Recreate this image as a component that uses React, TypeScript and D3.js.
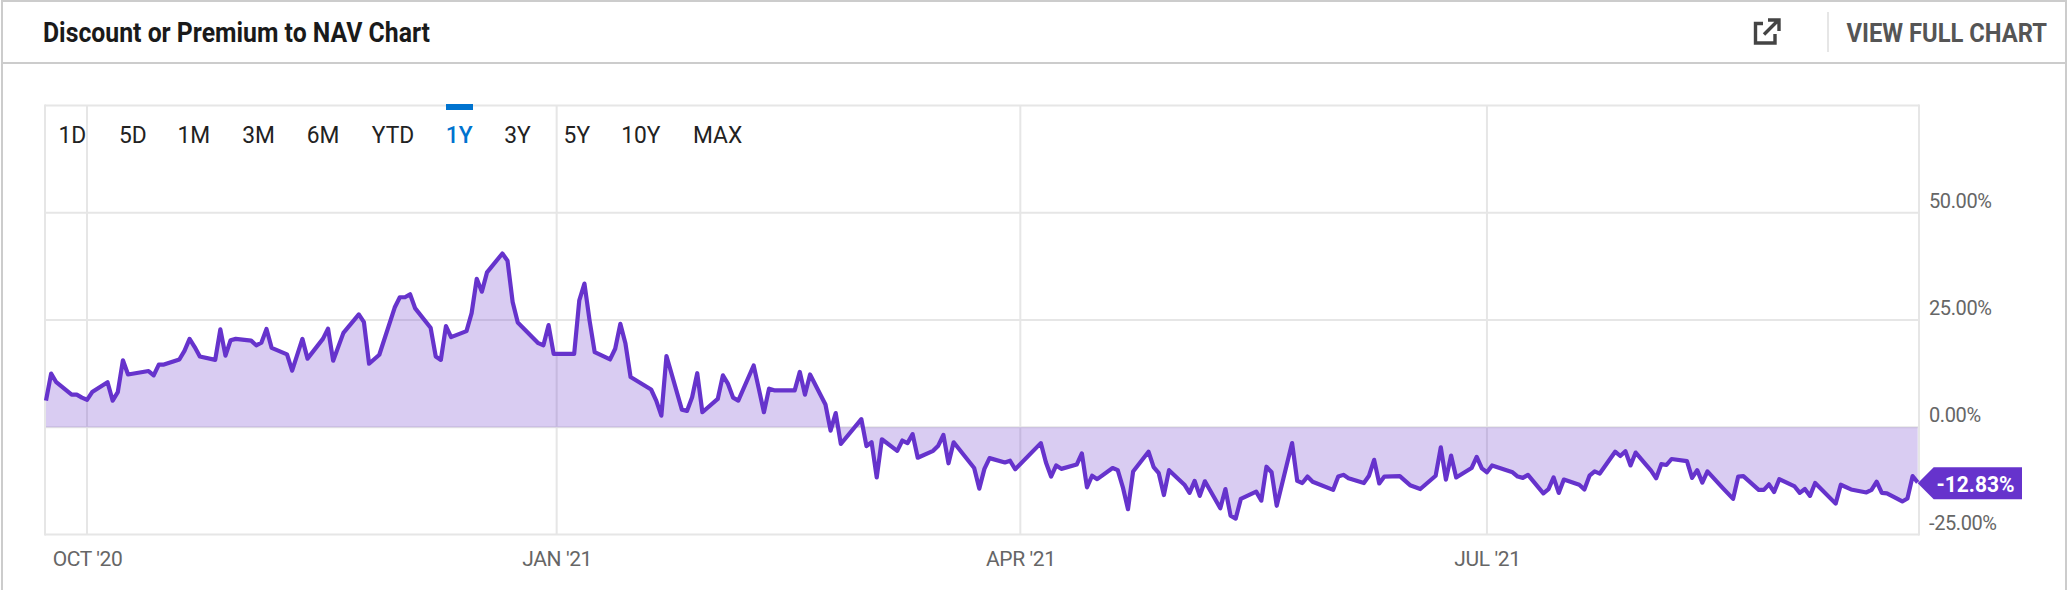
// Discount or Premium to NAV chart
import React, { useEffect, useRef } from 'react';
import * as d3 from 'd3';

const startDate = new Date(2020, 8, 23);

// days since startDate, trading days
const dayOffsets = [
  0, 1, 2, 5, 6, 7, 8, 9, 12, 13, 14, 15, 16, 20, 21, 22, 23, 26, 27, 28, 29, 30, 33, 34, 35, 36, 37, 40, 41, 42, 43, 44,
  47, 48, 50, 51, 54, 55, 56, 58, 61, 62, 63, 65, 68, 69, 70, 71, 72, 75, 76, 77, 78, 79, 82, 83, 84, 85, 86, 89, 90, 91, 92,
  96, 97, 98, 99, 103, 104, 105, 106, 107, 110, 111, 112, 113, 114, 118, 119, 120, 121, 124, 125, 126, 127, 128,
  131, 132, 133, 134, 135, 138, 139, 140, 141, 142, 146, 147, 148, 149, 152, 153, 154, 155, 159, 160, 161, 162, 163,
  166, 167, 168, 169, 170, 173, 174, 175, 176, 177, 181, 182, 183, 184, 187, 188, 189, 194, 195, 196, 197, 198,
  201, 202, 203, 204, 205, 208, 209, 210, 211, 212, 215, 216, 217, 218, 219, 222, 223, 224, 225, 226,
  229, 230, 231, 232, 233, 236, 237, 238, 239, 240, 243, 244, 245, 246, 247, 251, 252, 253, 254,
  257, 258, 259, 260, 261, 264, 266, 268, 271, 272, 273, 274, 275, 278, 279, 280, 281, 282,
  286, 287, 288, 289, 292, 293, 294, 295, 296, 299, 300, 301, 302, 303, 306, 307, 308, 309, 310,
  313, 314, 315, 316, 317, 320, 321, 322, 323, 324, 327, 329, 330, 331, 334, 335, 336, 337, 338,
  341, 342, 343, 344, 345, 349, 350, 352, 355, 356, 357, 358, 359, 362, 363, 364, 365,
];

const premiums = [
  6.2, 12.5, 10.5, 7.6, 7.6, 6.9, 6.4, 8.2, 10.5, 6.2, 8.2, 15.6, 12.3, 13.1, 12.1, 14.6, 14.6, 15.8, 17.8, 20.6, 18.7, 16.5, 15.7, 22.8, 16.7, 20.3, 20.6, 20.2, 19.1, 19.7, 22.9, 18.5,
  17.0, 13.2, 20.6, 16.0, 20.6, 23.0, 15.5, 22.0, 26.3, 24.5, 14.8, 16.9, 27.9, 30.3, 30.3, 31.0, 27.7, 23.2, 16.5, 15.7, 23.6, 21.0, 22.4, 26.6, 34.6, 31.6, 36.1, 40.5, 38.8, 29.2, 24.4,
  19.6, 19.1, 23.8, 17.1, 17.1, 29.6, 33.5, 24.9, 17.5, 15.8, 18.3, 24.1, 19.5, 11.7, 8.8, 6.2, 2.7, 16.6, 4.1, 3.8, 7.0, 12.6, 3.5,
  6.6, 12.1, 10.1, 6.9, 6.2, 14.4, 9.0, 3.5, 9.0, 8.6, 8.6, 12.9, 7.6, 12.3, 5.3, -0.8, 3.3, -3.9, 1.9, -4.4, -3.5, -11.7, -2.8,
  -5.5, -3.1, -3.7, -1.6, -7.1, -5.5, -4.3, -1.8, -8.4, -3.5, -9.5, -14.3, -9.7, -7.2, -8.2, -7.8, -9.8, -3.7, -8.2, -11.5, -8.9, -9.7,
  -8.7, -6.1, -14.0, -11.3, -12.1, -9.5, -10.0, -14.0, -19.1, -10.3, -5.7, -9.3, -10.7, -15.8, -10.0, -13.4, -15.3, -12.5, -16.0, -12.6,
  -18.9, -14.4, -20.6, -21.3, -16.7, -15.0, -17.1, -9.2, -10.5, -18.3, -3.7, -12.5, -13.0, -11.5, -12.7, -14.6, -11.5, -11.1, -11.9,
  -13.0, -11.3, -7.6, -13.1, -11.5, -11.4, -13.5, -14.4, -11.3, -4.7, -12.2, -6.6, -11.7, -9.5, -6.9, -9.6, -10.5, -8.9,
  -10.5, -11.5, -11.8, -11.1, -15.4, -14.4, -11.7, -15.3, -12.2, -13.4, -14.5, -11.3, -10.3, -10.8, -5.7, -6.7, -5.6, -8.9, -5.9,
  -10.1, -11.9, -8.6, -8.8, -7.4, -7.9, -11.8, -10.0, -12.9, -10.3, -14.2, -16.7, -11.5, -11.4, -14.6, -14.6, -13.3, -15.1, -12.1,
  -13.8, -15.3, -14.4, -16.0, -13.0, -17.8, -13.4, -14.5, -15.2, -14.6, -12.7, -15.3, -15.4, -17.3, -16.6, -11.4, -12.83,
];

const xTickDates = [new Date(2020, 9, 1), new Date(2020, 11, 31, 14), new Date(2021, 3, 1), new Date(2021, 6, 1)];
const xTickLabels = ["OCT '20", "JAN '21", "APR '21", "JUL '21"];
const yTicks = [-25, 0, 25, 50, 75];
const yLabelTicks = [-25, 0, 25, 50];
const ranges = ['1D', '5D', '1M', '3M', '6M', 'YTD', '1Y', '3Y', '5Y', '10Y', 'MAX'];
const activeRange = '1Y';
const lastValue = -12.83;

const rangeLeft = [58.5, 119, 177.5, 242.3, 306.7, 371.8, 445.8, 504.3, 563.6, 621.2, 693];
const WIDTH = 2068;
const HEIGHT = 590;
const LEFT = 45;
const RIGHT = 1919;
const TOP = 105.5;
const BOTTOM = 534.5;
const PURPLE = '#6633cc';
const GRID = '#e6e6e6';
const FONT = 'Roboto, sans-serif';

const App: React.FC = () => {
  const svgRef = useRef<SVGSVGElement | null>(null);

  useEffect(() => {
    const svg = d3.select(svgRef.current);
    svg.selectAll('*').remove(); // Clear previous content

    const dates = dayOffsets.map((d) => d3.timeDay.offset(startDate, d));
    const data = dates.map((date, i) => ({ date, value: premiums[i] }));

    const x = d3.scaleTime().domain([startDate, d3.timeDay.offset(startDate, 365)]).range([46, 1917.7]);
    const y = d3.scaleLinear().domain([-25, 75]).range([BOTTOM, TOP]);

    svg.append('rect').attr('width', WIDTH).attr('height', HEIGHT).attr('fill', '#fff');

    // card borders
    svg.append('rect').attr('x', 1).attr('y', 0).attr('width', 2).attr('height', HEIGHT).attr('fill', '#ccc');
    svg.append('rect').attr('x', 2065).attr('y', 0).attr('width', 2).attr('height', HEIGHT).attr('fill', '#ccc');
    svg.append('rect').attr('x', 1).attr('y', 0).attr('width', 2066).attr('height', 2).attr('fill', '#ccc');
    svg.append('rect').attr('x', 1).attr('y', 62).attr('width', 2066).attr('height', 2).attr('fill', '#ccc');

    // header
    svg.append('text').attr('x', 43).attr('y', 42).attr('font-family', FONT).attr('font-weight', 700)
      .attr('font-size', 27).attr('textLength', 387).attr('lengthAdjust', 'spacingAndGlyphs')
      .attr('fill', '#1a1a1a').text('Discount or Premium to NAV Chart');
    svg.append('path').attr('d', 'M1763 23.5H1755.5V43H1775V34M1764 34.5L1778 20.5M1768 20H1779V31')
      .attr('fill', 'none').attr('stroke', '#444').attr('stroke-width', 3.4);
    svg.append('line').attr('x1', 1828).attr('x2', 1828).attr('y1', 12).attr('y2', 52).attr('stroke', GRID).attr('stroke-width', 2);
    svg.append('text').attr('x', 1846.5).attr('y', 41.7).attr('font-family', FONT).attr('font-weight', 700)
      .attr('font-size', 25.5).attr('textLength', 200.5).attr('lengthAdjust', 'spacingAndGlyphs')
      .attr('fill', '#555').text('VIEW FULL CHART');

    // frame and grid
    const grid = svg.append('g').attr('stroke', GRID).attr('stroke-width', 2);
    grid.selectAll('line.h').data(yTicks).enter().append('line').attr('class', 'h')
      .attr('x1', LEFT).attr('x2', RIGHT).attr('y1', (d) => y(d)).attr('y2', (d) => y(d));
    grid.selectAll('line.v').data(xTickDates).enter().append('line').attr('class', 'v')
      .attr('x1', (d) => x(d)).attr('x2', (d) => x(d)).attr('y1', TOP).attr('y2', BOTTOM);
    grid.append('line').attr('x1', LEFT).attr('x2', LEFT).attr('y1', TOP - 1).attr('y2', BOTTOM + 1);
    grid.append('line').attr('x1', RIGHT).attr('x2', RIGHT).attr('y1', TOP - 1).attr('y2', BOTTOM + 1);

    // area and line
    const area = d3.area<{ date: Date; value: number }>().x((d) => x(d.date)).y0(y(0)).y1((d) => y(d.value));
    const line = d3.line<{ date: Date; value: number }>().x((d) => x(d.date)).y((d) => y(d.value));
    svg.append('path').datum(data).attr('d', area).attr('fill', PURPLE).attr('fill-opacity', 0.25);
    svg.append('path').datum(data).attr('d', line).attr('fill', 'none').attr('stroke', PURPLE)
      .attr('stroke-width', 4.2).attr('stroke-linejoin', 'round');

    // x axis
    const xAxis = svg.append('g').attr('transform', `translate(0,${BOTTOM})`)
      .call(d3.axisBottom(x).tickValues(xTickDates).tickSize(0).tickFormat((_, i) => xTickLabels[i]));
    xAxis.select('.domain').remove();
    xAxis.selectAll('text').attr('font-family', FONT).attr('font-size', 21).attr('letter-spacing', -0.4).attr('fill', '#666')
      .attr('y', 31).attr('dy', 0);

    // y axis
    const yAxis = svg.append('g').attr('transform', `translate(${RIGHT},0)`)
      .call(d3.axisRight(y).tickValues(yLabelTicks).tickSize(0).tickFormat((d) => `${(d as number).toFixed(2)}%`));
    yAxis.select('.domain').remove();
    yAxis.selectAll('text').attr('font-family', FONT).attr('font-size', 20).attr('letter-spacing', -0.4).attr('fill', '#666')
      .attr('x', 10).attr('dy', 0).attr('y', -5.4);

    // range buttons
    svg.selectAll('text.range').data(ranges).enter().append('text').attr('class', 'range')
      .attr('transform', (_, i) => `translate(${rangeLeft[i]},143.3) scale(0.95,1)`).attr('font-family', FONT).attr('font-size', 24)
      .attr('fill', (d) => (d === activeRange ? '#0073cf' : '#222'))
      .attr('font-weight', (d) => (d === activeRange ? 500 : 400)).text((d) => d);
    svg.append('rect').attr('x', 446).attr('y', 104).attr('width', 27).attr('height', 6).attr('fill', '#0073cf');

    // last value flag
    const ly = y(lastValue) + 1;
    const tipX = x(d3.timeDay.offset(startDate, 365));
    svg.append('path').attr('d', `M${tipX} ${ly}L${tipX + 16} ${ly - 16}H2022V${ly + 16}H${tipX + 16}Z`).attr('fill', PURPLE);
    svg.append('text').attr('x', 1936.5).attr('y', ly + 8.4).attr('font-family', FONT).attr('font-weight', 700)
      .attr('font-size', 22).attr('textLength', 78).attr('lengthAdjust', 'spacingAndGlyphs')
      .attr('fill', '#fff').text(`${lastValue.toFixed(2)}%`);
  }, []);

  return <svg ref={svgRef} width={WIDTH} height={HEIGHT} style={{ position: 'absolute', left: 0, top: 0 }}></svg>;
};

export default App;
